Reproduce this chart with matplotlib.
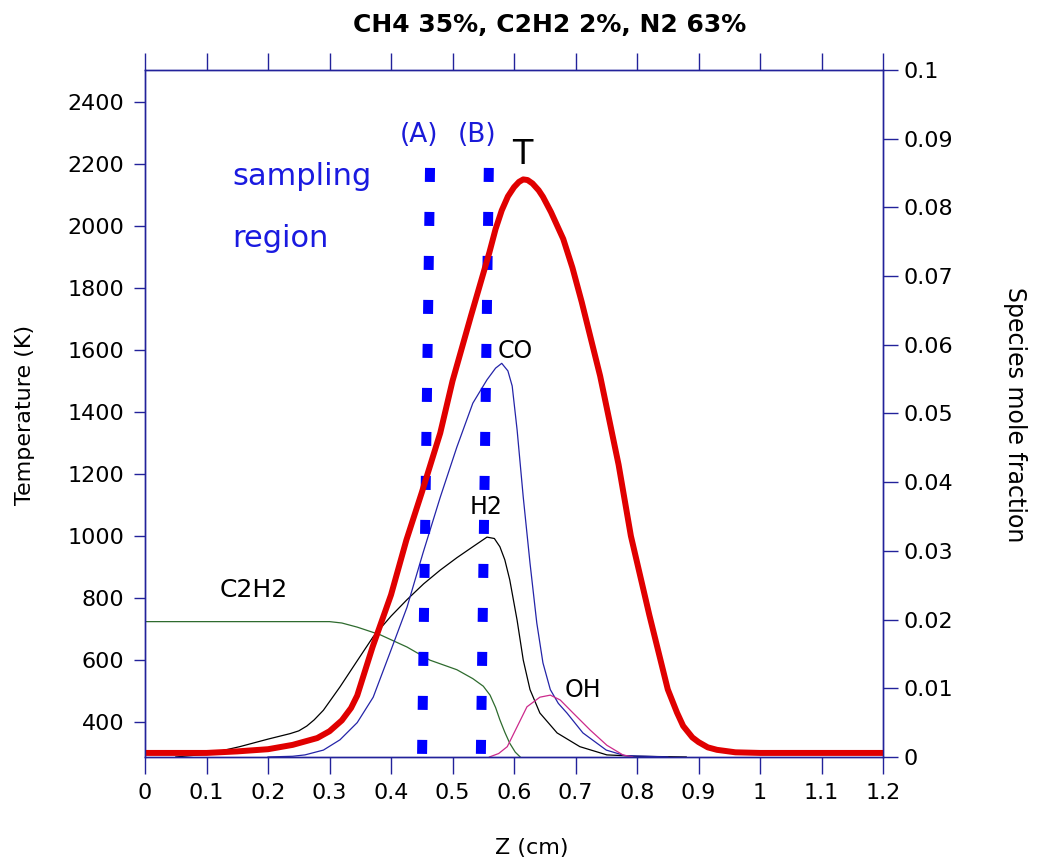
import matplotlib
matplotlib.use("Agg")
import matplotlib.pyplot as plt

# flame temperature (K) along Z (cm)
z_T = [0.0, 0.1, 0.15, 0.2, 0.24, 0.28, 0.3, 0.32, 0.335, 0.345, 0.37, 0.4, 0.425, 0.45,
       0.48, 0.5, 0.53, 0.56, 0.57, 0.58, 0.59, 0.6, 0.608, 0.615, 0.622, 0.63, 0.64,
       0.647, 0.66, 0.68, 0.695, 0.71, 0.74, 0.77, 0.79, 0.82, 0.85, 0.865, 0.875, 0.89,
       0.9, 0.915, 0.93, 0.96, 1.0, 1.2]
temp = [300, 300, 305, 312, 326, 348, 370, 405, 445, 485, 642, 810, 987, 1140,
        1332, 1500, 1710, 1915, 1990, 2050, 2095, 2125, 2142, 2150, 2148, 2137, 2115,
        2094, 2045, 1958, 1865, 1755, 1516, 1230, 1000, 745, 505, 430, 387, 350,
        335, 318, 310, 302, 300, 300]

# species mole fractions
z_co = [0.2, 0.24, 0.26, 0.29, 0.317, 0.345, 0.371, 0.398, 0.426, 0.452, 0.48, 0.507,
        0.533, 0.556, 0.57, 0.58, 0.59, 0.597, 0.605, 0.615, 0.626, 0.637, 0.647, 0.659,
        0.672, 0.686, 0.712, 0.75, 0.78, 0.85]
co = [0.0, 0.0001, 0.0003, 0.001, 0.0025, 0.005, 0.0087, 0.0151, 0.0218, 0.0297, 0.0378,
      0.0451, 0.0515, 0.0549, 0.0566, 0.0573, 0.0562, 0.054, 0.0476, 0.0378, 0.0282,
      0.0195, 0.0137, 0.0098, 0.0078, 0.0064, 0.0035, 0.001, 0.0002, 0.0]

z_h2 = [0.05, 0.1, 0.154, 0.2, 0.236, 0.25, 0.263, 0.275, 0.29, 0.317, 0.345, 0.371, 0.4,
        0.426, 0.453, 0.48, 0.507, 0.533, 0.556, 0.568, 0.577, 0.585, 0.593, 0.605, 0.615,
        0.626, 0.642, 0.67, 0.707, 0.751, 0.8, 0.88]
h2 = [0.0, 0.0004, 0.0015, 0.0026, 0.0034, 0.0038, 0.0045, 0.0054, 0.0068, 0.0102, 0.014,
      0.0175, 0.0205, 0.0229, 0.0252, 0.0272, 0.029, 0.0306, 0.032, 0.0318, 0.0306, 0.0287,
      0.0258, 0.0199, 0.0141, 0.0098, 0.0064, 0.0035, 0.0015, 0.0003, 0.0001, 0.0]

z_c2h2 = [0.0, 0.3, 0.32, 0.345, 0.382, 0.426, 0.463, 0.507, 0.533, 0.55, 0.561, 0.57,
          0.577, 0.585, 0.593, 0.602, 0.61]
c2h2 = [0.0197, 0.0197, 0.0195, 0.0189, 0.0178, 0.016, 0.0141, 0.0127, 0.0114, 0.0103,
        0.009, 0.0072, 0.0054, 0.0036, 0.002, 0.0007, 0.0]

z_oh = [0.56, 0.575, 0.589, 0.605, 0.621, 0.642, 0.659, 0.675, 0.696, 0.724, 0.751, 0.777, 0.793]
oh = [0.0, 0.0005, 0.0015, 0.0044, 0.0073, 0.0087, 0.009, 0.0083, 0.0064, 0.0039, 0.0017,
      0.0003, 0.0]

# sampling positions (A) and (B), top and bottom of the dotted marks
line_a_z = [0.4634, 0.4504]
line_b_z = [0.559, 0.546]
line_T = [2187, 287]

x_ticks = [0, 0.1, 0.2, 0.3, 0.4, 0.5, 0.6, 0.7, 0.8, 0.9, 1, 1.1, 1.2]
t_ticks = [400, 600, 800, 1000, 1200, 1400, 1600, 1800, 2000, 2200, 2400]
frac_ticks = [0, 0.01, 0.02, 0.03, 0.04, 0.05, 0.06, 0.07, 0.08, 0.09, 0.1]

navy = "#22229a"

fig = plt.figure(figsize=(10.45, 8.65), dpi=100)
ax = fig.add_axes([0.1388, 0.1249, 0.7062, 0.7942])
ax2 = ax.twinx()
ax.set_zorder(ax2.get_zorder() + 1)
ax.patch.set_visible(False)

# species on right axis
ax2.plot(z_c2h2, c2h2, color="#2e6b2e", lw=0.9)
ax2.plot(z_h2, h2, color="black", lw=0.9)
ax2.plot(z_co, co, color="#2424a8", lw=0.9)
ax2.plot(z_oh, oh, color="#cc2a8c", lw=0.9)
ax2.set_ylim(0, 0.1)
ax2.set_yticks(frac_ticks)
ax2.set_yticklabels([f"{v:g}" for v in frac_ticks])
ax2.tick_params(axis="y", direction="out", length=11, width=1, color=navy,
                labelsize=16, pad=4)

ax2.text(0.602, 0.0591, "CO", fontsize=17, ha="center", va="center")
ax2.text(0.554, 0.0364, "H2", fontsize=17, ha="center", va="center")
ax2.text(0.176, 0.0243, "C2H2", fontsize=18, ha="center", va="center")
ax2.text(0.712, 0.0098, "OH", fontsize=17, ha="center", va="center")

# temperature and sampling lines on left axis
ax.plot(line_a_z, line_T, color="#0000ff", lw=7.2, linestyle=(0, (1.4, 3.0)))
ax.plot(line_b_z, line_T, color="#0000ff", lw=7.2, linestyle=(0, (1.4, 3.0)))
ax.plot(z_T, temp, color="#e00000", lw=4.3, solid_joinstyle="round")

ax.set_xlim(0, 1.2)
ax.set_ylim(287, 2503)
ax.set_xticks(x_ticks)
ax.set_xticklabels([f"{v:g}" for v in x_ticks])
ax.set_yticks(t_ticks)
ax.tick_params(axis="x", direction="out", length=12, width=1, color=navy,
               labelsize=16, pad=7, top=True, labeltop=False)
ax.tick_params(axis="y", direction="out", length=8, width=1, color=navy,
               labelsize=16, pad=7)

for a in (ax, ax2):
    for s in a.spines.values():
        s.set_color(navy)
        s.set_linewidth(1.0)

ax.text(0.446, 2294, "(A)", fontsize=19, color="#1a1ad8", ha="center", va="center")
ax.text(0.540, 2294, "(B)", fontsize=19, color="#1a1ad8", ha="center", va="center")
ax.text(0.613, 2229, "T", fontsize=24, ha="center", va="center")
ax.text(0.1415, 2158, "sampling", fontsize=22, color="#1a1ae0", ha="left", va="center")
ax.text(0.1415, 1961, "region", fontsize=22, color="#1a1ae0", ha="left", va="center")

fig.text(0.526, 0.971, "CH4 35%, C2H2 2%, N2 63%", fontsize=18, fontweight="bold",
         ha="center", va="center")
fig.text(0.024, 0.520, "Temperature (K)", fontsize=16, rotation=90, ha="center", va="center")
fig.text(0.971, 0.521, "Species mole fraction", fontsize=17, rotation=270,
         ha="center", va="center")
fig.text(532 / 1045, 1 - 848 / 865, "Z (cm)", fontsize=16, ha="center", va="center")

fig.savefig("out.png", dpi=100)
